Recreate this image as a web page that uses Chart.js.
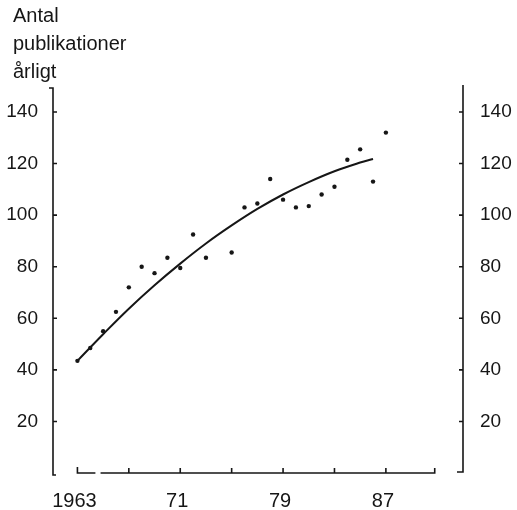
<!DOCTYPE html>
<html lang="sv">
<head>
  <meta charset="UTF-8" />
  <title>Antal publikationer årligt</title>
  <style>
    body {
      margin: 0;
      background: #fff;
    }
    canvas {
      display: block;
    }
  </style>
</head>
<body>
  <canvas id="pubChart" width="517" height="510"></canvas>

  <script src="https://cdn.jsdelivr.net/npm/chart.js"></script>
<script>
  // observed yearly counts (1974 not visible in the original)
  const years = [1963, 1964, 1965, 1966, 1967, 1968, 1969, 1970, 1971, 1972, 1973, 1975,
                 1976, 1977, 1978, 1979, 1980, 1981, 1982, 1983, 1984, 1985, 1986, 1987];
  const counts = [43.5, 48.5, 55, 62.5, 72, 80, 77.5, 83.5, 79.5, 92.5, 83.5, 85.5,
                  103, 104.5, 114, 106, 103, 103.5, 108, 111, 121.5, 125.5, 113, 132];

  // fitted trend
  const trendYears = [1963, 1965, 1967, 1969, 1971, 1973, 1975, 1977, 1979, 1981, 1983, 1985, 1986];
  const trendValues = [43.5, 53.8, 63.7, 72.8, 81.2, 89, 96, 102.4, 108, 112.8, 117, 120.4, 121.8];

  const yTicks = [20, 40, 60, 80, 100, 120, 140];
  const xLabels = [1963, 1971, 1979, 1987];
  const xTickMarks = [1967, 1971, 1975, 1979, 1983, 1987];
  const titleLines = ['Antal', 'publikationer', 'årligt'];

  const ink = '#161616';
  const fontFamily = 'Liberation Sans, Arial, sans-serif';

  // title block and hand-drawn looking axes: brackets and inward ticks
  const axesPlugin = {
    id: 'axesPlugin',
    afterDraw(chart) {
      const { ctx, chartArea: a, scales: { x, y } } = chart;
      ctx.save();
      ctx.fillStyle = ink;
      ctx.font = '20px ' + fontFamily;
      ctx.textBaseline = 'alphabetic';
      titleLines.forEach((t, i) => ctx.fillText(t, 13, 22 + i * 28));

      ctx.strokeStyle = ink;
      ctx.lineWidth = 1.6;
      ctx.beginPath();
      // left axis
      ctx.moveTo(a.left - 4, a.top);
      ctx.lineTo(a.left, a.top);
      ctx.lineTo(a.left, a.bottom + 2);
      ctx.lineTo(a.left + 3, a.bottom + 2);
      yTicks.forEach(v => {
        const py = y.getPixelForValue(v);
        ctx.moveTo(a.left, py);
        ctx.lineTo(a.left + 4, py);
      });
      // right axis
      ctx.moveTo(a.right, a.top - 3);
      ctx.lineTo(a.right, a.bottom - 1);
      ctx.lineTo(a.right - 6, a.bottom - 1);
      yTicks.forEach(v => {
        const py = y.getPixelForValue(v);
        ctx.moveTo(a.right, py);
        ctx.lineTo(a.right - 4, py);
      });
      // x axis, broken after the first year
      const x0 = x.getPixelForValue(1963);
      ctx.moveTo(x0, a.bottom - 6);
      ctx.lineTo(x0, a.bottom);
      ctx.lineTo(x.getPixelForValue(1964.4), a.bottom);
      ctx.moveTo(x.getPixelForValue(1964.8), a.bottom);
      const xEnd = x.getPixelForValue(1990.8);
      ctx.lineTo(xEnd, a.bottom);
      ctx.lineTo(xEnd, a.bottom - 5);
      xTickMarks.forEach(v => {
        const px = x.getPixelForValue(v);
        ctx.moveTo(px, a.bottom);
        ctx.lineTo(px, a.bottom - 5);
      });
      ctx.stroke();
      ctx.restore();
    }
  };

  const ctx = document.getElementById('pubChart').getContext('2d');
  new Chart(ctx, {
    data: {
      datasets: [
        {
          type: 'scatter',
          data: years.map((yr, i) => ({ x: yr, y: counts[i] })),
          backgroundColor: ink,
          borderWidth: 0,
          pointRadius: 2.2
        },
        {
          type: 'line',
          data: trendYears.map((yr, i) => ({ x: yr, y: trendValues[i] })),
          borderColor: ink,
          borderWidth: 2,
          pointRadius: 0,
          tension: 0.4,
          fill: false
        }
      ]
    },
    options: {
      responsive: false,
      animation: false,
      devicePixelRatio: 1,
      layout: { padding: { left: 0, right: 0, top: 88, bottom: 0 } },
      plugins: {
        legend: { display: false },
        tooltip: { enabled: false },
        title: { display: false }
      },
      scales: {
        x: {
          type: 'linear',
          position: 'bottom',
          min: 1961.1,
          max: 1993,
          afterBuildTicks: s => { s.ticks = xLabels.map(v => ({ value: v })); },
          afterFit: s => { s.height = 37; },
          grid: { display: false, drawTicks: false },
          border: { display: false },
          ticks: {
            color: ink,
            font: { family: fontFamily, size: 20 },
            padding: 16,
            labelOffset: -3,
            maxRotation: 0,
            callback: v => v === 1963 ? '1963' : String(v).slice(2)
          }
        },
        y: {
          position: 'left',
          min: 0,
          max: 149.3,
          afterBuildTicks: s => { s.ticks = yTicks.map(v => ({ value: v })); },
          afterFit: s => { s.width = 53; },
          grid: { display: false, drawTicks: false },
          border: { display: false },
          ticks: { color: ink, font: { family: fontFamily, size: 19 }, padding: 15 }
        },
        y2: {
          position: 'right',
          min: 0,
          max: 149.3,
          afterBuildTicks: s => { s.ticks = yTicks.map(v => ({ value: v })); },
          afterFit: s => { s.width = 54; },
          grid: { display: false, drawTicks: false },
          border: { display: false },
          ticks: { color: ink, font: { family: fontFamily, size: 19 }, padding: 17 }
        }
      }
    },
    plugins: [axesPlugin]
  });
</script>
</body>
</html>
